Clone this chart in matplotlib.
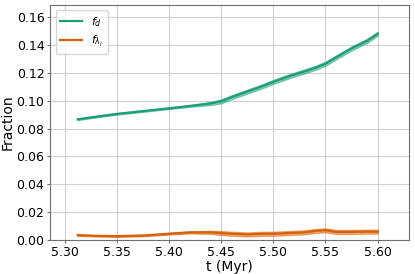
import matplotlib
matplotlib.use("Agg")
import matplotlib.pyplot as plt
import numpy as np

t = [5.3125, 5.33, 5.35, 5.375, 5.40, 5.42, 5.44, 5.45, 5.46, 5.475, 5.49,
     5.50, 5.515, 5.53, 5.54, 5.55, 5.56, 5.575, 5.59, 5.60]
f_d = [0.0866, 0.0885, 0.0905, 0.0925, 0.0945, 0.0962, 0.0980, 0.0995, 0.1025,
       0.1065, 0.1105, 0.1135, 0.1175, 0.1210, 0.1235, 0.1265, 0.1310, 0.1375,
       0.1430, 0.1480]
f_d_err = [0.0006, 0.0006, 0.0006, 0.0006, 0.0006, 0.0007, 0.0012, 0.0015, 0.0015,
           0.0015, 0.0015, 0.0015, 0.0015, 0.0015, 0.0015, 0.0015, 0.0015, 0.0015,
           0.0015, 0.0015]
f_l = [0.0035, 0.0030, 0.0028, 0.0032, 0.0045, 0.0055, 0.0055, 0.0050, 0.0045,
       0.0040, 0.0045, 0.0045, 0.0050, 0.0055, 0.0065, 0.0070, 0.0058, 0.0058,
       0.0060, 0.0060]
f_l_err = [0.0006, 0.0006, 0.0006, 0.0006, 0.0007, 0.0008, 0.0012, 0.0015, 0.0015,
           0.0015, 0.0015, 0.0015, 0.0015, 0.0015, 0.0015, 0.0015, 0.0015, 0.0015,
           0.0015, 0.0015]

green = "#1b9e77"
orange = "#d95f02"

fig = plt.figure(figsize=(4.15, 2.74), dpi=100)
ax = fig.add_axes([0.1205, 0.124, 0.865, 0.858])

ta = np.array(t)
for y, e, c, lab in [(f_d, f_d_err, green, r"$f_d$"), (f_l, f_l_err, orange, r"$f_{\lambda_l}$")]:
    y = np.array(y); e = np.array(e)
    ax.fill_between(ta, y - e, y + e, color=c, alpha=0.5, lw=0.8, edgecolor=c)
    ax.plot(ta, y, color=c, lw=1.6, label=lab)

ax.set_xlim(5.286, 5.630)
ax.set_ylim(0.0, 0.1687)
ax.set_xticks([5.30, 5.35, 5.40, 5.45, 5.50, 5.55, 5.60])
ax.set_yticks([0.00, 0.02, 0.04, 0.06, 0.08, 0.10, 0.12, 0.14, 0.16])
ax.grid(True, color="#d0d0d0", lw=0.8)
ax.set_axisbelow(True)
for s in ax.spines.values():
    s.set_color("#707070")
ax.tick_params(colors="black", labelsize=9, length=2, pad=2, color="#707070")
ax.set_xlabel("t (Myr)", fontsize=10, labelpad=1)
ax.set_ylabel("Fraction", fontsize=10, labelpad=1)
ax.legend(loc="upper left", fontsize=8, frameon=True)

fig.savefig("out.png", dpi=100)
